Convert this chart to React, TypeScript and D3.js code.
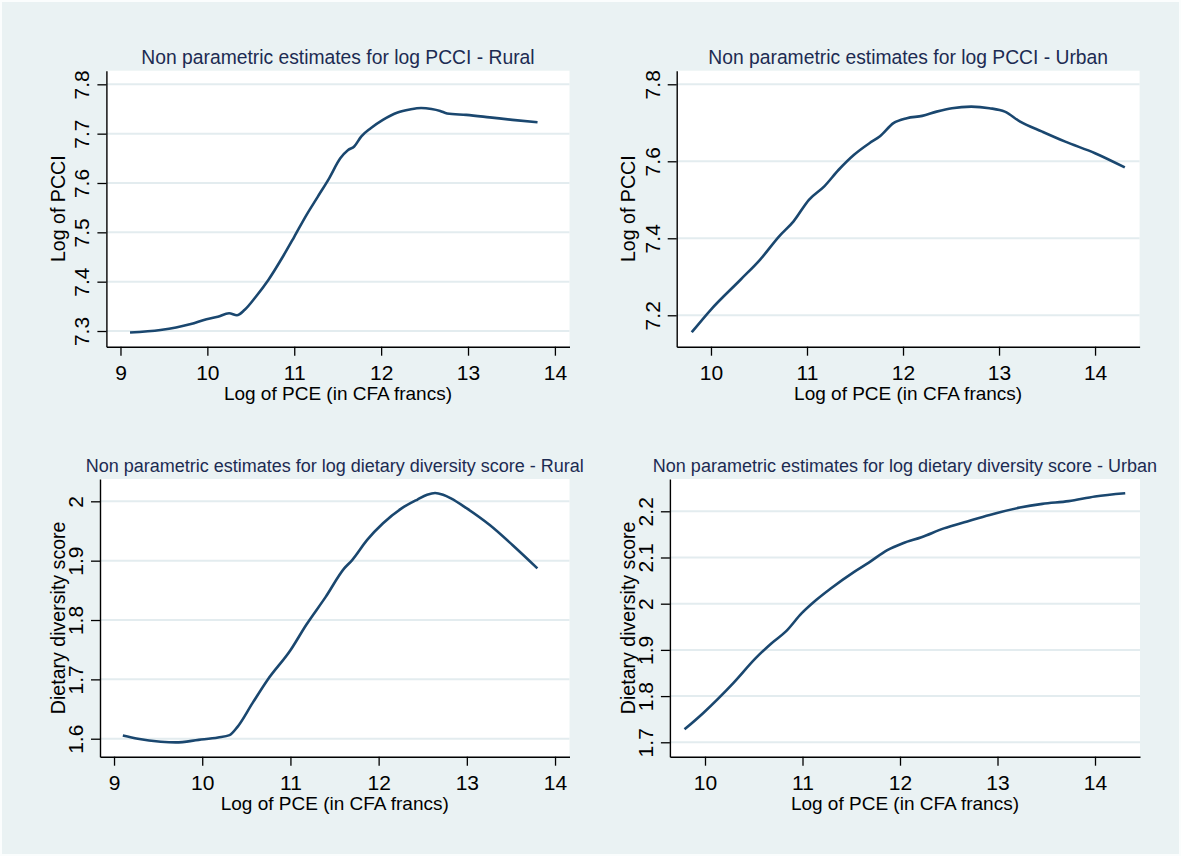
import React, { useEffect, useRef } from 'react';
import * as d3 from 'd3';

// Rural, log PCCI
const ruralPcciX = [9.11, 9.46, 9.64, 9.81, 9.99, 10.12, 10.25, 10.34, 10.43, 10.56, 10.7, 10.87, 11.0, 11.14, 11.27, 11.4, 11.53, 11.62, 11.69, 11.77, 11.88, 12.02, 12.19, 12.33, 12.46, 12.58, 12.68, 12.76, 12.98, 13.25, 13.51, 13.8];
const ruralPcciY = [7.297, 7.302, 7.307, 7.314, 7.324, 7.329, 7.336, 7.332, 7.343, 7.37, 7.403, 7.451, 7.491, 7.535, 7.572, 7.609, 7.65, 7.667, 7.674, 7.694, 7.711, 7.728, 7.743, 7.749, 7.752, 7.75, 7.746, 7.741, 7.738, 7.733, 7.728, 7.723];

// Urban, log PCCI
const urbanPcciX = [9.8, 10.0, 10.31, 10.51, 10.71, 10.86, 11.02, 11.18, 11.33, 11.49, 11.65, 11.76, 11.9, 12.04, 12.2, 12.35, 12.51, 12.71, 12.9, 13.06, 13.22, 13.45, 13.69, 14.0, 14.31];
const urbanPcciY = [7.156, 7.215, 7.293, 7.344, 7.405, 7.444, 7.5, 7.535, 7.578, 7.617, 7.647, 7.665, 7.699, 7.712, 7.718, 7.729, 7.738, 7.742, 7.738, 7.729, 7.703, 7.677, 7.651, 7.621, 7.584];

// Rural, dietary diversity score
const ruralDdsX = [9.1, 9.27, 9.53, 9.7, 9.96, 10.18, 10.31, 10.4, 10.57, 10.74, 11.0, 11.18, 11.4, 11.61, 11.7, 11.87, 12.05, 12.26, 12.44, 12.55, 12.64, 12.73, 12.82, 13.0, 13.26, 13.52, 13.8];
const ruralDdsY = [1.6056, 1.6, 1.595, 1.5938, 1.598, 1.602, 1.606, 1.62, 1.66, 1.699, 1.749, 1.792, 1.839, 1.887, 1.901, 1.935, 1.963, 1.988, 2.003, 2.011, 2.014, 2.011, 2.005, 1.988, 1.96, 1.926, 1.887];

// Urban, dietary diversity score
const urbanDdsX = [9.79, 9.98, 10.29, 10.52, 10.68, 10.83, 10.99, 11.14, 11.29, 11.53, 11.68, 11.87, 12.03, 12.22, 12.45, 12.69, 12.92, 13.23, 13.46, 13.73, 14.0, 14.31];
const urbanDdsY = [1.728, 1.763, 1.828, 1.882, 1.914, 1.94, 1.979, 2.008, 2.033, 2.069, 2.089, 2.116, 2.131, 2.144, 2.163, 2.178, 2.192, 2.208, 2.216, 2.222, 2.232, 2.239];

const xTicksRural = [9, 10, 11, 12, 13, 14];
const xTicksUrban = [10, 11, 12, 13, 14];
const yTicksRuralPcci = [7.3, 7.4, 7.5, 7.6, 7.7, 7.8];
const yTicksUrbanPcci = [7.2, 7.4, 7.6, 7.8];
const yTicksRuralDds = [1.6, 1.7, 1.8, 1.9, 2];
const yTicksUrbanDds = [1.7, 1.8, 1.9, 2, 2.1, 2.2];

const titles = [
  'Non parametric estimates for log PCCI - Rural',
  'Non parametric estimates for log PCCI - Urban',
  'Non parametric estimates for log dietary diversity score - Rural',
  'Non parametric estimates for log dietary diversity score - Urban',
];
const xLabel = 'Log of PCE (in CFA francs)';
const yLabels = ['Log of PCCI', 'Log of PCCI', 'Dietary diversity score', 'Dietary diversity score'];

const FONT = '"Liberation Sans", Arial, Helvetica, sans-serif';
const BG = '#eaf2f3';
const GRID = '#e3ecef';
const LINE = '#1a476f';
const TITLE = '#1c2b52';

const panels = [
  { xs: ruralPcciX, ys: ruralPcciY, xTicks: xTicksRural, yTicks: yTicksRuralPcci,
    left: 106.4, right: 569.5, top: 70.7, bottom: 346.7,
    xDomain: [8.838, 14.168], yDomain: [7.2682, 7.8276], titleSize: 19.3, yTitleX: 64.5 },
  { xs: urbanPcciX, ys: urbanPcciY, xTicks: xTicksUrban, yTicks: yTicksUrbanPcci,
    left: 676.7, right: 1139.6, top: 70.7, bottom: 346.7,
    xDomain: [9.643, 14.464], yDomain: [7.1184, 7.8353], titleSize: 19.3, yTitleX: 635 },
  { xs: ruralDdsX, ys: ruralDdsY, xTicks: xTicksRural, yTicks: yTicksRuralDds,
    left: 100, right: 569.5, top: 479, bottom: 756.7,
    xDomain: [8.841, 14.164], yDomain: [1.5697, 2.0376], titleSize: 18, yTitleX: 65 },
  { xs: urbanDdsX, ys: urbanDdsY, xTicks: xTicksUrban, yTicks: yTicksUrbanDds,
    left: 669.9, right: 1140, top: 479, bottom: 756.7,
    xDomain: [9.64, 14.4615], yDomain: [1.6688, 2.2699], titleSize: 18, yTitleX: 635 },
];

const App = () => {
  const ref = useRef<SVGSVGElement>(null);

  useEffect(() => {
    const svg = d3.select(ref.current);
    svg.selectAll('*').remove();

    svg.append('rect').attr('width', 1181).attr('height', 856).attr('fill', '#fbfdfd');
    svg.append('rect').attr('x', 2).attr('y', 2).attr('width', 1177).attr('height', 852).attr('fill', BG);

    panels.forEach((p, i) => {
      const x = d3.scaleLinear().domain(p.xDomain).range([p.left, p.right]);
      const y = d3.scaleLinear().domain(p.yDomain).range([p.bottom, p.top]);
      const g = svg.append('g');

      g.append('rect')
        .attr('x', p.left).attr('y', p.top)
        .attr('width', p.right - p.left).attr('height', p.bottom - p.top)
        .attr('fill', '#fff');

      // horizontal grid
      g.selectAll('.grid')
        .data(p.yTicks)
        .enter()
        .append('line')
        .attr('x1', p.left).attr('x2', p.right)
        .attr('y1', d => y(d)).attr('y2', d => y(d))
        .attr('stroke', GRID).attr('stroke-width', 2);

      // curve
      const pts = p.xs.map((v, k) => [v, p.ys[k]] as [number, number]);
      g.append('path')
        .datum(pts)
        .attr('fill', 'none')
        .attr('stroke', LINE)
        .attr('stroke-width', 2.6)
        .attr('stroke-linejoin', 'round')
        .attr('d', d3.line().x(d => x(d[0])).y(d => y(d[1])).curve(d3.curveMonotoneX));

      // x axis
      const gx = g.append('g')
        .attr('transform', `translate(0,${p.bottom})`)
        .call(d3.axisBottom(x).tickValues(p.xTicks).tickSize(9).tickSizeOuter(0).tickPadding(9.4).tickFormat(d => String(d)));
      gx.select('.domain').attr('stroke', '#000').attr('stroke-width', 1.4);
      gx.selectAll('.tick line').attr('stroke', '#000').attr('stroke-width', 1.3);
      gx.selectAll('.tick text').attr('font-family', FONT).attr('font-size', 21).attr('fill', '#000');

      // y axis, labels rotated
      const gy = g.append('g')
        .attr('transform', `translate(${p.left},0)`)
        .call(d3.axisLeft(y).tickValues(p.yTicks).tickSize(9).tickSizeOuter(0).tickFormat(d => String(d)));
      gy.select('.domain').attr('stroke', '#000').attr('stroke-width', 1.4);
      gy.selectAll('.tick line').attr('stroke', '#000').attr('stroke-width', 1.3);
      gy.selectAll('.tick text')
        .attr('x', null).attr('dy', null)
        .attr('text-anchor', 'middle')
        .attr('transform', 'translate(-17,0) rotate(-90)')
        .attr('font-family', FONT).attr('font-size', 21).attr('fill', '#000');

      // titles
      g.append('text')
        .attr('x', (p.left + p.right) / 2).attr('y', p.top - 7)
        .attr('text-anchor', 'middle')
        .attr('font-family', FONT).attr('font-size', p.titleSize).attr('fill', TITLE)
        .text(titles[i]);

      g.append('text')
        .attr('x', (p.left + p.right) / 2).attr('y', p.bottom + 53.3)
        .attr('text-anchor', 'middle')
        .attr('font-family', FONT).attr('font-size', 19).attr('fill', '#000')
        .text(xLabel);

      g.append('text')
        .attr('transform', `translate(${p.yTitleX},${(p.top + p.bottom) / 2}) rotate(-90)`)
        .attr('text-anchor', 'middle')
        .attr('font-family', FONT).attr('font-size', 19.6).attr('fill', '#000')
        .text(yLabels[i]);
    });
  }, []);

  return (
    <div style={{ position: 'absolute', left: 0, top: 0 }}>
      <svg ref={ref} width={1181} height={856} style={{ display: 'block' }}></svg>
    </div>
  );
};

export default App;
